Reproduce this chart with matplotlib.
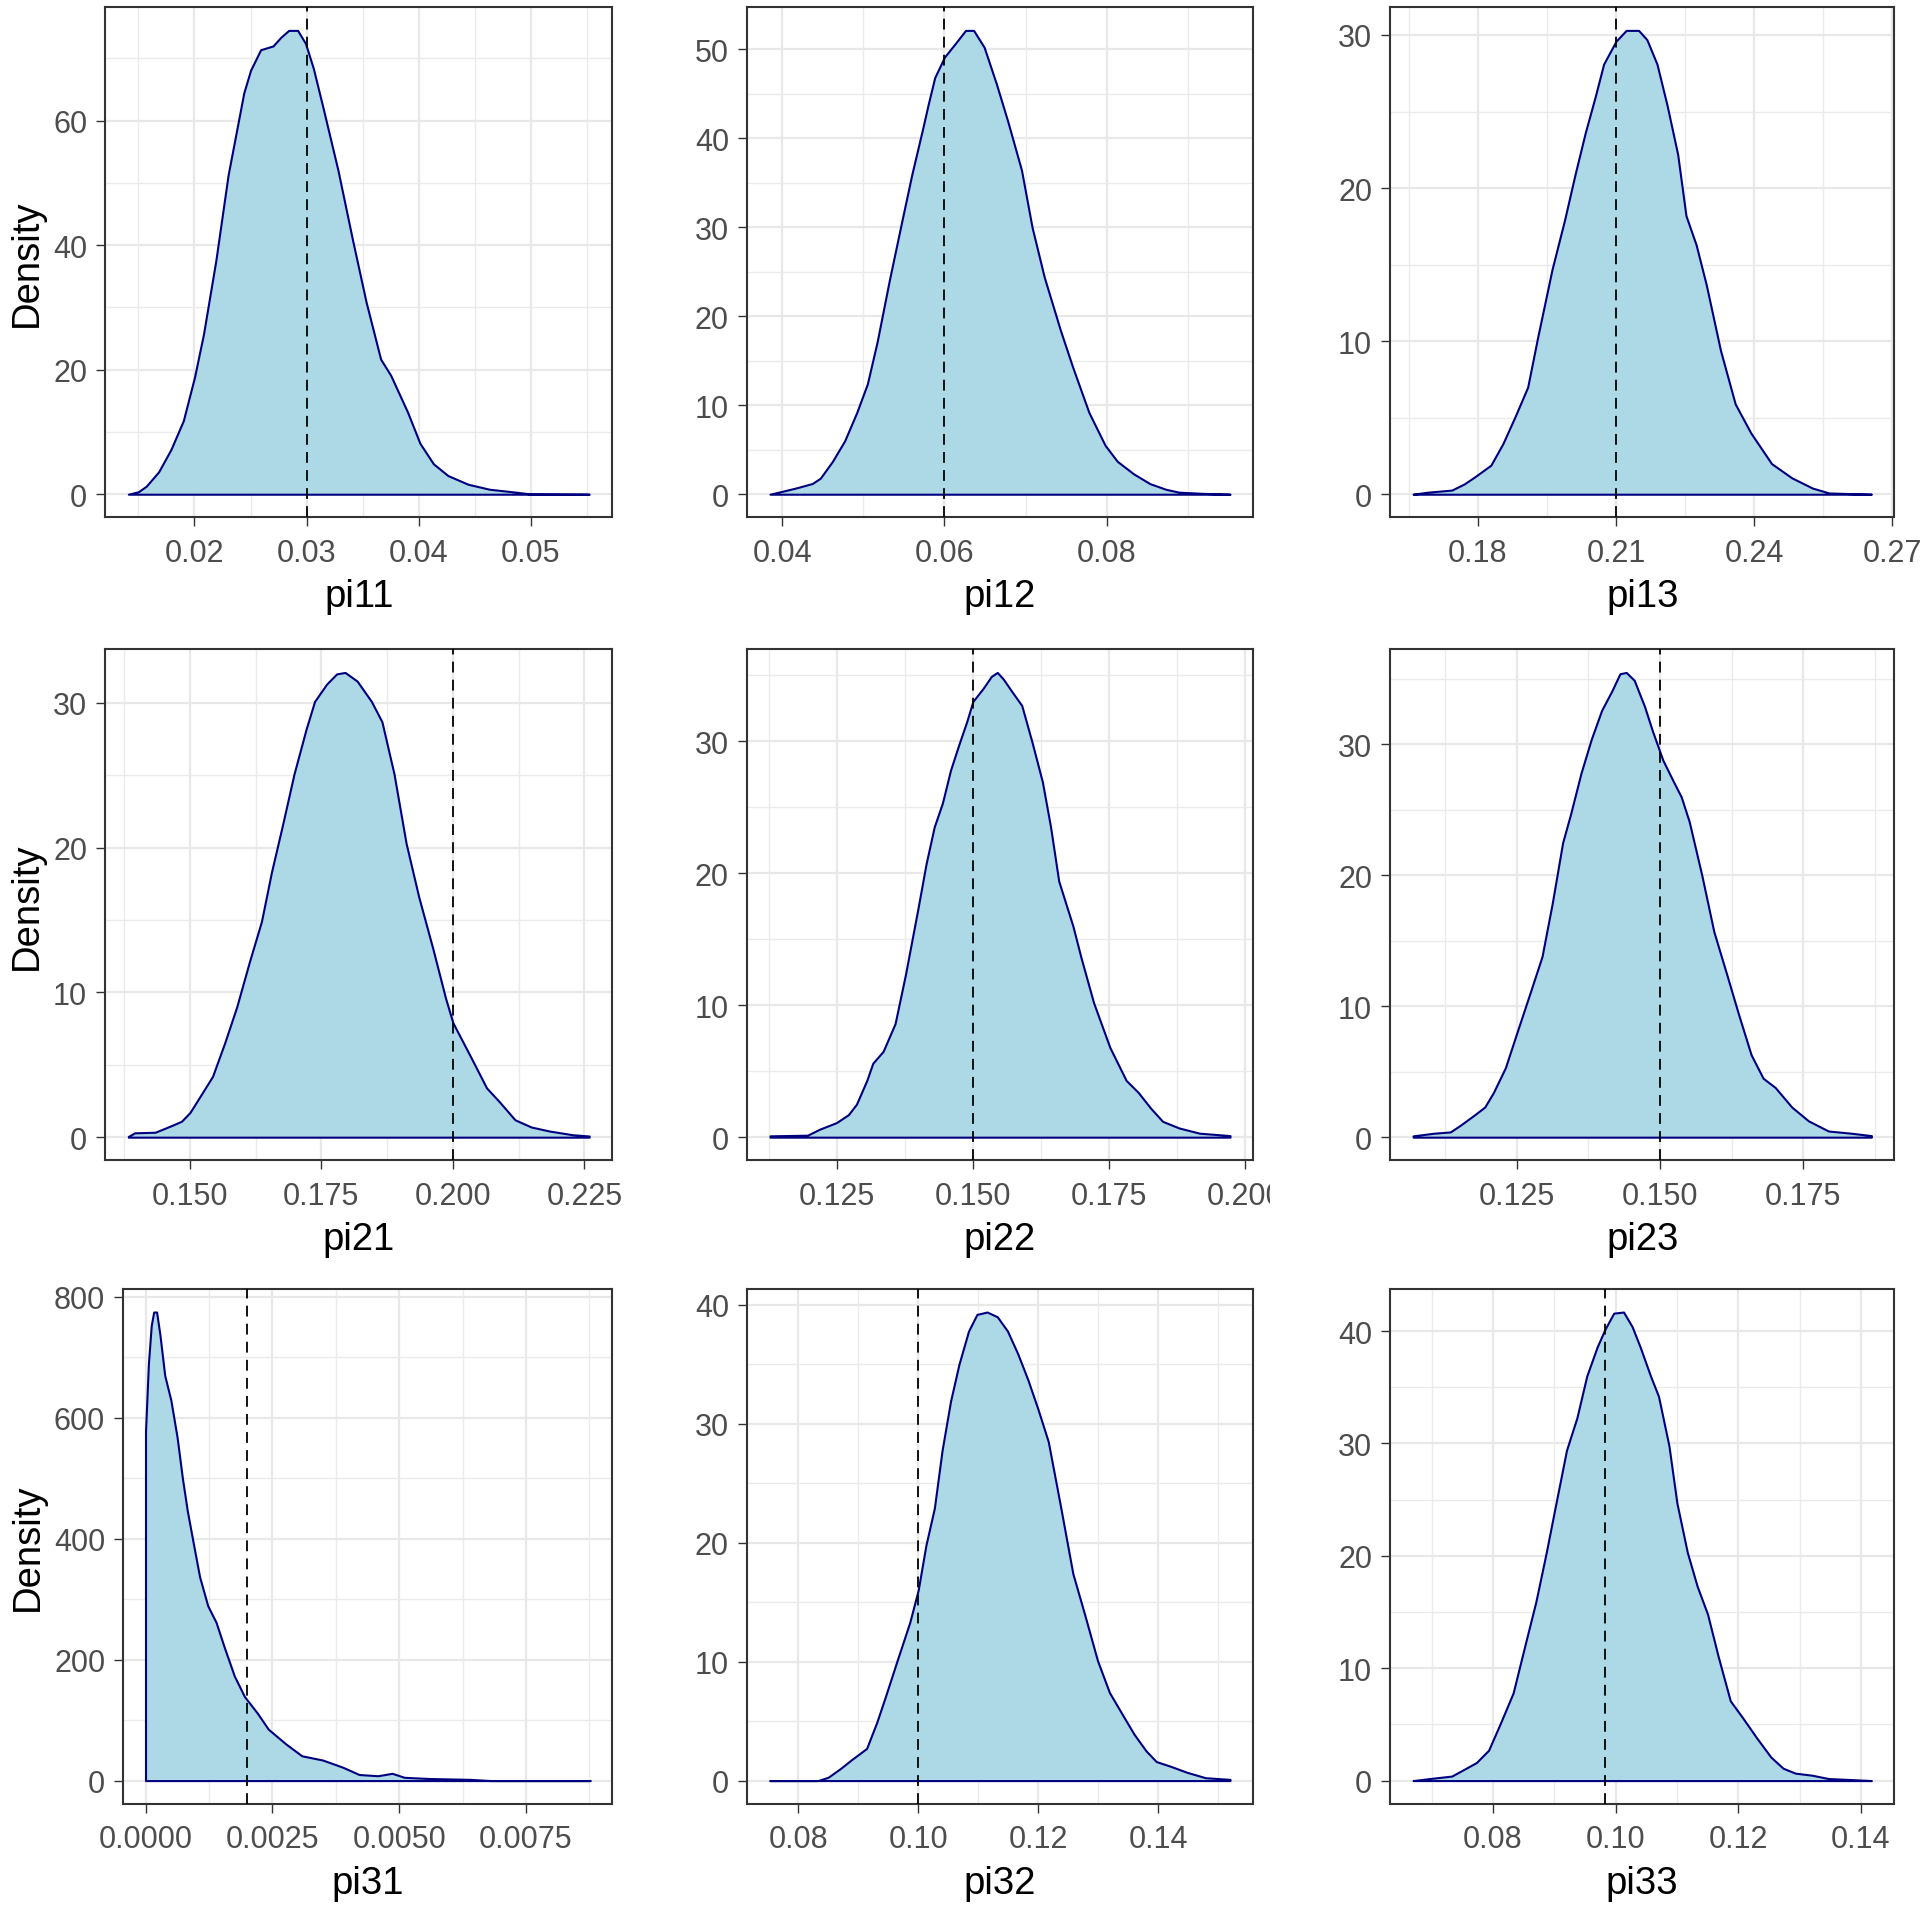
import matplotlib
matplotlib.use("Agg")
import matplotlib.pyplot as plt
from matplotlib.ticker import MultipleLocator, FuncFormatter
from matplotlib.transforms import Bbox, TransformedBbox

plt.rcParams['font.family'] = ['Liberation Sans', 'DejaVu Sans']

# density curves (x, density)
pi11_x = [0.0141, 0.0150, 0.0157, 0.0168, 0.0179, 0.0190, 0.0200, 0.0208, 0.0219, 0.0230,
          0.0237, 0.0244, 0.0250, 0.0259, 0.0270, 0.0277, 0.0284, 0.0292, 0.0299, 0.0306,
          0.0315, 0.0328, 0.0341, 0.0353, 0.0366, 0.0375, 0.0390, 0.0401, 0.0413, 0.0426,
          0.0444, 0.0463, 0.0488, 0.0499, 0.0552]
pi11_y = [0.0, 0.4, 1.3, 3.6, 7.2, 11.8, 18.8, 25.7, 37.5, 51.3,
          57.9, 64.5, 68.1, 71.4, 72.0, 73.4, 74.5, 74.5, 72.4, 68.4,
          61.8, 52.0, 40.8, 30.9, 21.7, 19.1, 13.2, 8.2, 4.9, 3.0,
          1.6, 0.8, 0.3, 0.05, 0.0]

pi12_x = [0.0385, 0.0399, 0.0417, 0.0437, 0.0447, 0.0462, 0.0477, 0.0492, 0.0505, 0.0517,
          0.0532, 0.0548, 0.0560, 0.0573, 0.0580, 0.0588, 0.0600, 0.0614, 0.0626, 0.0636,
          0.0649, 0.0664, 0.0678, 0.0695, 0.0708, 0.0723, 0.0743, 0.0758, 0.0778, 0.0798,
          0.0813, 0.0833, 0.0853, 0.0873, 0.0889, 0.0917, 0.0952]
pi12_y = [0.0, 0.3, 0.7, 1.2, 1.8, 3.7, 6.0, 9.2, 12.4, 17.1,
          24.0, 30.9, 36.0, 41.0, 43.8, 46.8, 49.1, 50.7, 52.1, 52.1,
          50.2, 46.1, 41.9, 36.4, 30.0, 24.4, 18.4, 14.3, 9.2, 5.5,
          3.7, 2.3, 1.2, 0.55, 0.23, 0.1, 0.0]

pi13_x = [0.1659, 0.1690, 0.1743, 0.1770, 0.1796, 0.1828, 0.1854, 0.1881, 0.1908, 0.1930,
          0.1961, 0.1988, 0.2011, 0.2033, 0.2055, 0.2073, 0.2100, 0.2122, 0.2149, 0.2167,
          0.2189, 0.2211, 0.2234, 0.2252, 0.2274, 0.2296, 0.2327, 0.2359, 0.2393, 0.2438,
          0.2482, 0.2527, 0.2563, 0.2655]
pi13_y = [0.0, 0.13, 0.27, 0.67, 1.2, 1.9, 3.3, 5.1, 7.0, 10.3,
          14.7, 17.9, 20.9, 23.6, 26.0, 28.1, 29.6, 30.3, 30.3, 29.7,
          28.1, 25.4, 22.2, 18.2, 16.3, 13.7, 9.4, 5.9, 4.0, 2.0,
          1.07, 0.4, 0.08, 0.0]

pi21_x = [0.1383, 0.1395, 0.1434, 0.1465, 0.1484, 0.1500, 0.1519, 0.1543, 0.1566, 0.1589,
          0.1613, 0.1636, 0.1655, 0.1675, 0.1698, 0.1721, 0.1737, 0.1760, 0.1779, 0.1795,
          0.1818, 0.1845, 0.1865, 0.1888, 0.1911, 0.1935, 0.1962, 0.1986, 0.2000, 0.2033,
          0.2064, 0.2087, 0.2118, 0.2149, 0.2184, 0.2227, 0.2259]
pi21_y = [0.05, 0.3, 0.34, 0.8, 1.1, 1.7, 2.8, 4.2, 6.5, 9.0,
          12.1, 14.9, 18.3, 21.4, 25.1, 28.2, 30.1, 31.3, 32.0, 32.1,
          31.5, 30.1, 28.7, 25.1, 20.3, 16.6, 13.0, 9.6, 7.9, 5.6,
          3.4, 2.5, 1.2, 0.7, 0.42, 0.17, 0.08]

pi22_x = [0.1127, 0.1196, 0.1218, 0.1249, 0.1271, 0.1286, 0.1305, 0.1316, 0.1335, 0.1357,
          0.1376, 0.1399, 0.1414, 0.1429, 0.1444, 0.1459, 0.1474, 0.1489, 0.1500, 0.1519,
          0.1534, 0.1545, 0.1556, 0.1571, 0.1590, 0.1609, 0.1628, 0.1643, 0.1658, 0.1684,
          0.1699, 0.1722, 0.1752, 0.1782, 0.1804, 0.1827, 0.1849, 0.1879, 0.1917, 0.1973]
pi22_y = [0.1, 0.15, 0.6, 1.1, 1.7, 2.5, 4.3, 5.6, 6.5, 8.6,
          12.3, 17.3, 20.7, 23.5, 25.3, 27.8, 29.7, 31.5, 33.0, 34.0,
          34.9, 35.2, 34.7, 33.8, 32.7, 29.9, 26.9, 23.5, 19.4, 16.0,
          13.6, 10.2, 6.8, 4.3, 3.4, 2.2, 1.2, 0.7, 0.3, 0.12]

pi23_x = [0.1069, 0.1105, 0.1134, 0.1151, 0.1173, 0.1194, 0.1209, 0.1230, 0.1251, 0.1273,
          0.1294, 0.1312, 0.1330, 0.1344, 0.1362, 0.1380, 0.1398, 0.1416, 0.1430, 0.1441,
          0.1455, 0.1473, 0.1487, 0.1505, 0.1523, 0.1537, 0.1551, 0.1573, 0.1594, 0.1616,
          0.1637, 0.1659, 0.1680, 0.1701, 0.1730, 0.1759, 0.1794, 0.1834, 0.1869]
pi23_y = [0.1, 0.3, 0.4, 0.9, 1.6, 2.3, 3.4, 5.3, 8.1, 11.0,
          13.8, 17.9, 22.5, 24.7, 27.8, 30.4, 32.6, 34.1, 35.4, 35.5,
          34.9, 32.9, 31.0, 28.8, 27.2, 26.0, 24.1, 20.0, 15.7, 12.5,
          9.4, 6.3, 4.5, 3.8, 2.3, 1.25, 0.47, 0.3, 0.12]

pi31_x = [0.0, 0.000057, 0.000113, 0.000161, 0.000218, 0.000283, 0.000379, 0.0005, 0.000622, 0.000727,
          0.000824, 0.000945, 0.001066, 0.001227, 0.001389, 0.00155, 0.00175, 0.00195, 0.0022, 0.00242,
          0.00276, 0.00308, 0.00349, 0.00389, 0.00421, 0.00458, 0.00486, 0.0051, 0.00559, 0.0064,
          0.0068, 0.00876]
pi31_y = [578, 690, 753, 775, 775, 738, 670, 629, 568, 500,
          446, 391, 337, 289, 262, 221, 173, 139, 112, 85,
          61, 41, 34, 22, 10, 8, 12, 5.4, 3.4, 2.0,
          0.0, 0.0]

pi32_x = [0.0753, 0.0833, 0.0850, 0.0870, 0.0890, 0.0914, 0.0931, 0.0945, 0.0965, 0.0986,
          0.1000, 0.1013, 0.1027, 0.1040, 0.1054, 0.1068, 0.1084, 0.1098, 0.1115, 0.1132,
          0.1149, 0.1166, 0.1183, 0.1200, 0.1217, 0.1238, 0.1258, 0.1278, 0.1299, 0.1319,
          0.1340, 0.1360, 0.1380, 0.1397, 0.1421, 0.1448, 0.1479, 0.1520]
pi32_y = [0.0, 0.0, 0.28, 1.0, 1.8, 2.7, 4.9, 7.0, 10.1, 13.3,
          16.0, 19.8, 22.9, 27.8, 31.9, 35.0, 37.8, 39.2, 39.4, 39.0,
          37.8, 35.9, 33.7, 31.2, 28.5, 22.9, 17.4, 13.9, 10.1, 7.4,
          5.6, 3.9, 2.5, 1.6, 1.2, 0.7, 0.24, 0.1]

pi33_x = [0.0670, 0.0697, 0.0733, 0.0753, 0.0773, 0.0793, 0.0813, 0.0833, 0.0853, 0.0870,
          0.0887, 0.0900, 0.0920, 0.0937, 0.0953, 0.0970, 0.0983, 0.0997, 0.1013, 0.1027,
          0.1040, 0.1057, 0.1070, 0.1087, 0.1100, 0.1117, 0.1133, 0.1150, 0.1167, 0.1187,
          0.1207, 0.1230, 0.1253, 0.1273, 0.1293, 0.1320, 0.1347, 0.1380, 0.1417]
pi33_y = [0.0, 0.18, 0.4, 1.0, 1.6, 2.7, 5.2, 7.8, 12.2, 15.9,
          20.3, 23.9, 29.4, 32.3, 36.0, 38.6, 40.2, 41.6, 41.7, 40.4,
          38.6, 36.0, 34.2, 29.8, 24.7, 20.3, 17.3, 14.8, 11.1, 7.1,
          5.6, 3.8, 2.1, 1.1, 0.66, 0.48, 0.18, 0.1, 0.0]

names = ["pi11", "pi12", "pi13", "pi21", "pi22", "pi23", "pi31", "pi32", "pi33"]
true_values = [0.03, 0.06, 0.21, 0.20, 0.15, 0.15, 0.002, 0.10, 0.0983]
curves = [(pi11_x, pi11_y), (pi12_x, pi12_y), (pi13_x, pi13_y),
          (pi21_x, pi21_y), (pi22_x, pi22_y), (pi23_x, pi23_y),
          (pi31_x, pi31_y), (pi32_x, pi32_y), (pi33_x, pi33_y)]

# axis settings: x tick step, x decimals, y tick step
x_steps = [0.01, 0.02, 0.03, 0.025, 0.025, 0.025, 0.0025, 0.02, 0.02]
x_decimals = [2, 2, 2, 3, 3, 3, 4, 2, 2]
y_steps = [20, 10, 10, 10, 10, 10, 200, 10, 10]

# panel boxes in pixels: left, top, right, bottom
W, H = 1920, 1906
col_lr = [(105.3, 612.2), (747.0, 1253.0), (1390.2, 1894.3)]
row_tb = [(8.2, 518.4), (650.2, 1161.4), (1289.6, 1805.0)]

fig = plt.figure(figsize=(W / 100, H / 100), dpi=100)

for i, name in enumerate(names):
    r, c = divmod(i, 3)
    left, right = col_lr[c]
    if i == 6:
        left = 123.3
    top, bottom = row_tb[r]
    ax = fig.add_axes([left / W, 1 - bottom / H, (right - left) / W, (bottom - top) / H])

    x, y = curves[i]
    ax.fill_between(x, y, 0, facecolor="#ADD8E6", edgecolor="#00007F", linewidth=1.5, zorder=2)
    ax.axvline(true_values[i], color="black", linestyle=(0, (6, 4)), linewidth=1.3, zorder=3)
    ax.margins(0.05)

    ax.xaxis.set_major_locator(MultipleLocator(x_steps[i]))
    ax.xaxis.set_minor_locator(MultipleLocator(x_steps[i] / 2))
    ax.yaxis.set_major_locator(MultipleLocator(y_steps[i]))
    ax.yaxis.set_minor_locator(MultipleLocator(y_steps[i] / 2))
    d = x_decimals[i]
    ax.xaxis.set_major_formatter(FuncFormatter(lambda v, p, d=d: f"{v + 0:.{d}f}"))
    ax.yaxis.set_major_formatter(FuncFormatter(lambda v, p: f"{v + 0:.0f}"))

    ax.set_axisbelow(True)
    ax.grid(which="major", color="#E8E8E8", linewidth=1.6)
    ax.grid(which="minor", color="#EBEBEB", linewidth=1.0)
    ax.tick_params(which="major", length=6.5, width=1.0, color="#333333",
                   labelsize=22, labelcolor="#4D4D4D", pad=6.5)
    ax.tick_params(axis="x", which="major", pad=8)
    ax.tick_params(which="minor", length=0)
    for sp in ax.spines.values():
        sp.set_color("#333333")
        sp.set_linewidth(1.5)

    ax.set_xlabel(name, fontsize=27.5, labelpad=7.5)
    if c == 0:
        ax.set_ylabel("Density", fontsize=27.5, labelpad=6)

    if name == "pi22":
        clip = TransformedBbox(Bbox([[0, 0], [1270 / W, 1]]), fig.transFigure)
        for lbl in ax.get_xticklabels():
            lbl.set_clip_box(clip)
            lbl.set_clip_on(True)

fig.savefig("out.png", dpi=100)
